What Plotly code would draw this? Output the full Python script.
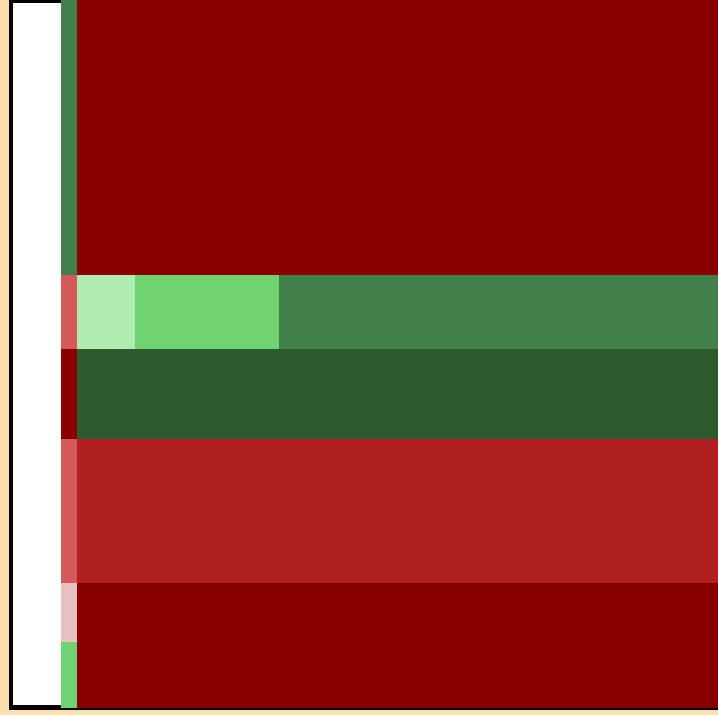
import plotly.graph_objects as go

# cell boundaries along each axis (in the chart's own units)
x_edges = [61, 77, 135, 279, 718]
y_edges = [0, 275, 349, 439, 583, 642, 708]

# colour categories
categories = ["darkred", "firebrick", "salmon", "pink", "palegreen", "lightgreen", "midgreen", "darkgreen"]
cat_colors = ["#880000", "#B02020", "#D45A5A", "#E8C0C0", "#B2EBB2", "#70D270", "#41804A", "#2C5A2C"]

# category index per cell: rows (top to bottom) x columns (left to right)
row1 = [6, 0, 0, 0]
row2 = [2, 4, 5, 6]
row3 = [0, 7, 7, 7]
row4 = [2, 1, 1, 1]
row5 = [3, 0, 0, 0]
row6 = [5, 0, 0, 0]
z = [row1, row2, row3, row4, row5, row6]

n = len(cat_colors)
colorscale = []
for i, c in enumerate(cat_colors):
    colorscale.append([i / n, c])
    colorscale.append([(i + 1) / n, c])

fig = go.Figure(go.Heatmap(
    x=x_edges, y=y_edges, z=z,
    zmin=-0.5, zmax=n - 0.5,
    colorscale=colorscale, showscale=False, hoverinfo="skip",
))

# white inner panel left of the cells (frame shows as black plot background)
fig.add_shape(type="rect", x0=13, x1=61, y0=3, y1=705, layer="below",
              fillcolor="white", line=dict(width=0))

fig.update_layout(
    width=718, height=715,
    margin=dict(l=9, r=0, t=0, b=5, autoexpand=False),
    paper_bgcolor="#FFDEAD", plot_bgcolor="black",
    showlegend=False,
)
fig.update_xaxes(range=[9, 718], showgrid=False, zeroline=False, showticklabels=False,
                 ticks="", showline=False)
fig.update_yaxes(range=[710, 0], showgrid=False, zeroline=False, showticklabels=False,
                 ticks="", showline=False)

fig.write_html("out.html", config={"displayModeBar": False},
               post_script="document.body.style.margin='0';document.body.style.overflow='hidden';")
